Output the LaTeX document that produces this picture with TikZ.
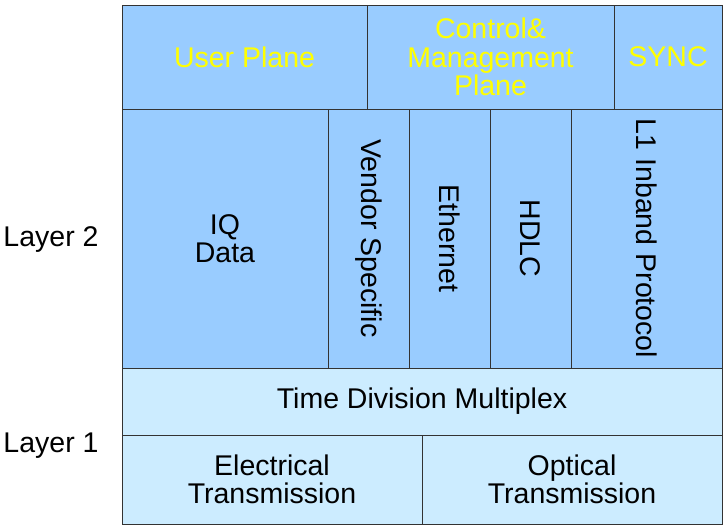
\documentclass[tikz,border=0pt]{standalone}
\usepackage{fontspec}
\setmainfont{Liberation Sans}
\definecolor{upper}{HTML}{99CCFF}
\definecolor{lower}{HTML}{CCECFF}
\definecolor{edge}{HTML}{333333}
\definecolor{ytext}{HTML}{FFFF00}
\begin{document}
\begin{tikzpicture}[x=1pt,y=-1pt,
  cell/.style={draw=edge,line width=1pt,inner sep=0pt,align=center,
    font=\fontsize{28.5}{28.5}\selectfont},
  up/.style={cell,fill=upper},
  low/.style={cell,fill=lower},
  plane/.style={up,text=ytext},
  side/.style={inner sep=0pt,font=\fontsize{28.5}{28.5}\selectfont}]
\useasboundingbox (0,0) rectangle (726,528);
% top row
\node[plane,minimum width=245pt,minimum height=104pt] (user) at (244.5,57) {User Plane};
\node[plane,minimum width=247pt,minimum height=104pt] (ctrl) at (490.5,57) {Control\&\\Management\\Plane};
\node[plane,minimum width=108pt,minimum height=104pt] (sync) at (668,57) {SYNC};
% layer 2 row
\node[up,minimum width=206pt,minimum height=259pt] (iq) at (225,238.5) {IQ\\Data};
\node[up,minimum width=81pt,minimum height=259pt] (vend) at (368.5,238.5) {};
\node[up,minimum width=81pt,minimum height=259pt] (eth) at (449.5,238.5) {};
\node[up,minimum width=81pt,minimum height=259pt] (hdlc) at (530.5,238.5) {};
\node[up,minimum width=151pt,minimum height=259pt] (l1) at (646.5,238.5) {};
\node[side,rotate=-90] (vendt) at (vend.center) {Vendor Specific};
\node[side,rotate=-90] (etht) at (eth.center) {Ethernet};
\node[side,rotate=-90] (hdlct) at (hdlc.center) {HDLC};
\node[side,rotate=-90] (l1t) at (l1.center) {L1 Inband Protocol};
% layer 1
\node[low,minimum width=600pt,minimum height=67pt] (tdm) at (422,401.5) {Time Division Multiplex};
\node[low,minimum width=300pt,minimum height=89pt] (elec) at (272,479.5) {Electrical\\Transmission};
\node[low,minimum width=300pt,minimum height=89pt] (opt) at (572,479.5) {Optical\\Transmission};
% side labels
\node[side] (l2) at (51,240) {Layer 2};
\node[side] (l1lab) at (51,446) {Layer 1};
\end{tikzpicture}
\end{document}
